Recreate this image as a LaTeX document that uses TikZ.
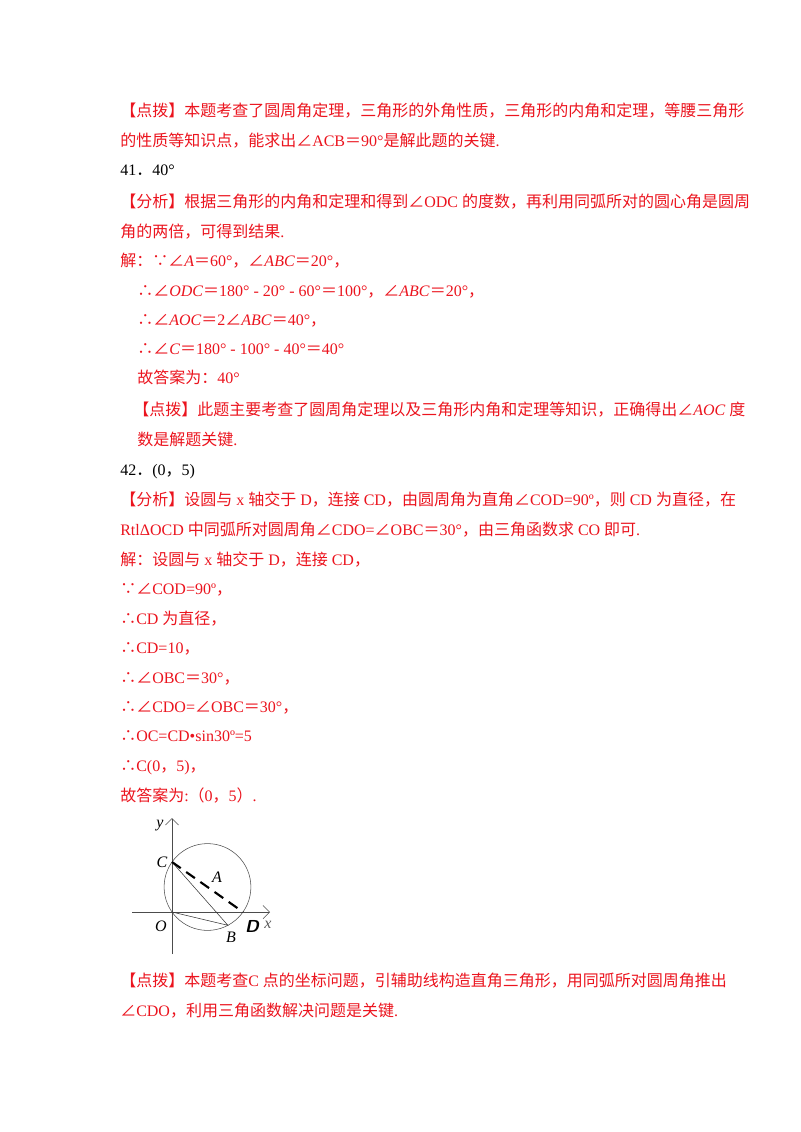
\documentclass[tikz,border=0pt]{standalone}
\usetikzlibrary{arrows.meta}
\usepackage{fontspec}
\setmainfont{Liberation Serif}
\newfontfamily\cjk{Noto Sans CJK SC}
\XeTeXinterchartokenstate=1
\newXeTeXintercharclass\CJKcls
\count255="4E00 \loop \XeTeXcharclass\count255=\CJKcls \advance\count255 1 \ifnum\count255<"A000 \repeat
\count255="3000 \loop \XeTeXcharclass\count255=\CJKcls \advance\count255 1 \ifnum\count255<"3040 \repeat
\count255="FF00 \loop \XeTeXcharclass\count255=\CJKcls \advance\count255 1 \ifnum\count255<"FF60 \repeat
\XeTeXcharclass"2220=\CJKcls \XeTeXcharclass"2235=\CJKcls \XeTeXcharclass"2234=\CJKcls
\XeTeXinterchartoks 0 \CJKcls = {\begingroup\cjk}
\XeTeXinterchartoks 4095 \CJKcls = {\begingroup\cjk}
\XeTeXinterchartoks \CJKcls 0 = {\endgroup}
\XeTeXinterchartoks \CJKcls 4095 = {\endgroup}
\definecolor{tred}{RGB}{235,20,30}
\begin{document}
\begin{tikzpicture}[x=0.75pt,y=-0.75pt,
  ln/.style={anchor=base west,inner sep=0pt,font=\fontsize{12pt}{14pt}\selectfont,text=tred},
  bk/.style={ln,text=black},
  lb/.style={inner sep=0pt,font=\fontsize{12pt}{12pt}\selectfont\itshape}]
\useasboundingbox (0,0) rectangle (800,1132);
\node[ln] (l1) at (120,116) {【点拨】本题考查了圆周角定理，三角形的外角性质，三角形的内角和定理，等腰三角形};
\node[ln] (l2) at (120,146) {的性质等知识点，能求出∠ACB＝90°是解此题的关键.};
\node[bk] (l3) at (120,175) {41．40°};
\node[ln] (l4) at (120,207) {【分析】根据三角形的内角和定理和得到∠ODC 的度数，再利用同弧所对的圆心角是圆周};
\node[ln] (l5) at (120,237) {角的两倍，可得到结果.};
\node[ln] (l6) at (120,266) {解：∵∠\textit{A}＝60°，∠\textit{ABC}＝20°，};
\node[ln] (l7) at (137,296) {∴∠\textit{ODC}＝180° - 20° - 60°＝100°，∠\textit{ABC}＝20°，};
\node[ln] (l8) at (137,325) {∴∠\textit{AOC}＝2∠\textit{ABC}＝40°，};
\node[ln] (l9) at (137,354) {∴∠\textit{C}＝180° - 100° - 40°＝40°};
\node[ln] (l10) at (137,383) {故答案为：40°};
\node[ln] (l11) at (133,415) {【点拨】此题主要考查了圆周角定理以及三角形内角和定理等知识，正确得出∠\textit{AOC} 度};
\node[ln] (l12) at (137,445) {数是解题关键.};
\node[bk] (l13) at (120,475) {42．(0，5)};
\node[ln] (l14) at (120,505) {【分析】设圆与 x 轴交于 D，连接 CD，由圆周角为直角∠COD=90º，则 CD 为直径，在};
\node[ln] (l15) at (120,535) {RtlΔOCD 中同弧所对圆周角∠CDO=∠OBC＝30°，由三角函数求 CO 即可.};
\node[ln] (l16) at (120,565) {解：设圆与 x 轴交于 D，连接 CD，};
\node[ln] (l17) at (120,594) {∵∠COD=90º，};
\node[ln] (l18) at (120,624) {∴CD 为直径，};
\node[ln] (l19) at (120,653) {∴CD=10，};
\node[ln] (l20) at (120,683) {∴∠OBC＝30°，};
\node[ln] (l21) at (120,712) {∴∠CDO=∠OBC＝30°，};
\node[ln] (l22) at (120,741) {∴OC=CD•sin30º=5};
\node[ln] (l23) at (120,771) {∴C(0，5)，};
\node[ln] (l24) at (120,801) {故答案为:（0，5）.};
\node[ln] (l25) at (120,986) {【点拨】本题考查C 点的坐标问题，引辅助线构造直角三角形，用同弧所对圆周角推出};
\node[ln] (l26) at (120,1016) {∠CDO，利用三角函数解决问题是关键.};
% figure
\coordinate (O) at (172,912);
\coordinate (C) at (172,862);
\coordinate (D) at (243,912);
\coordinate (B) at (227.9,925.3);
\coordinate (M) at (207.5,887);
\coordinate (yb) at (172,954); \coordinate (yt) at (172,818);
\coordinate (xl) at (132,912); \coordinate (xr) at (270,912);
\draw[thin,gray!60!black,-{Straight Barb[length=5pt]}] (yb) -- (yt);
\draw[thin,gray!60!black,-{Straight Barb[length=5pt]}] (xl) -- (xr);
\draw[thin,gray!60!black] (M) circle[radius=43.4];
\draw[thin,black!80] (C) -- (B) -- (O);
\draw[line width=1.6pt,dash pattern=on 8pt off 5pt] (C) -- (D);
\node[lb] (ly) at (160,826) {y};
\node[lb] (lC) at (162,862) {C};
\node[lb] (lA) at (217,877) {A};
\node[lb] (lO) at (161,926) {O};
\node[lb] (lB) at (231,937) {B};
\node[lb,font=\fontsize{13pt}{13pt}\selectfont\sffamily\bfseries\itshape] (lD) at (252,926) {D};
\node[lb,text=gray!70!black] (lx) at (268,925) {x};
\end{tikzpicture}
\end{document}
